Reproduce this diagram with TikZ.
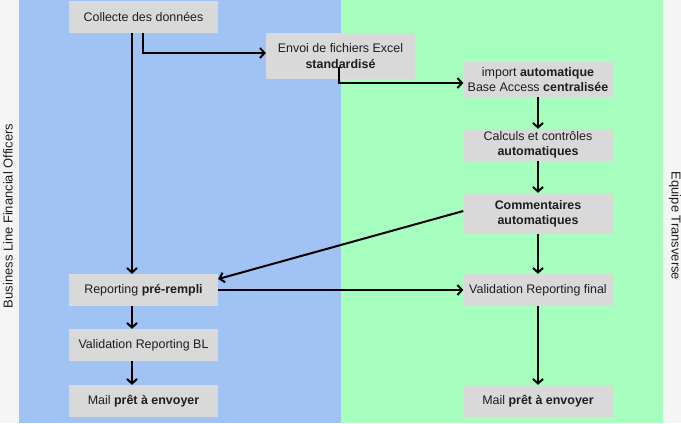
\documentclass[tikz,border=0pt]{standalone}
\usepackage{fontspec}
\setmainfont{Liberation Sans}
\usetikzlibrary{arrows.meta}
\definecolor{bgc}{HTML}{F5F5F5}
\definecolor{bluelane}{HTML}{A0C3F3}
\definecolor{greenlane}{HTML}{A6FFBF}
\definecolor{boxc}{HTML}{D9D9D9}
\definecolor{txt}{HTML}{1E1E1E}
\begin{document}
\begin{tikzpicture}[x=1bp,y=-1bp,
  font=\fontsize{12.5}{15.2}\selectfont,
  stepbox/.style={fill=boxc, inner sep=0pt, align=center, text=txt, minimum width=149bp},
  conn/.style={line width=2bp, -{Straight Barb[length=4.5bp,width=10bp,line width=2bp]}},
  lanelabel/.style={text=txt, font=\fontsize{13}{15}\selectfont}]
\useasboundingbox (0,0) rectangle (681,423);
\fill[bgc] (0,0) rectangle (681,423);
\fill[bluelane] (19,0) rectangle (341,423);
\fill[greenlane] (341,0) rectangle (663,423);

\node[stepbox, minimum height=32bp] (collecte) at (143.5,17) {Collecte des données};
\node[stepbox, minimum height=46bp] (envoi) at (340.5,56) {Envoi de fichiers Excel\\\textbf{standardisé}};
\node[stepbox, minimum height=35bp] (import) at (538,79.5) {import \textbf{automatique}\\Base Access \textbf{centralisée}};
\node[stepbox, minimum height=32bp] (calculs) at (538,145) {Calculs et contrôles\\\textbf{automatiques}};
\node[stepbox, minimum height=41bp] (comment) at (538,213.5) {\textbf{Commentaires}\\\textbf{automatiques}};
\node[stepbox, minimum height=32bp] (reporting) at (143.5,290) {Reporting \textbf{pré-rempli}};
\node[stepbox, minimum height=32bp] (valbl) at (143.5,345) {Validation Reporting BL};
\node[stepbox, minimum height=32bp] (maill) at (143.5,401) {Mail \textbf{prêt à envoyer}};
\node[stepbox, minimum height=32bp] (valfinal) at (538,290) {Validation Reporting final};
\node[stepbox, minimum height=32bp] (mailr) at (538,401) {Mail \textbf{prêt à envoyer}};

\node[lanelabel, rotate=90] (bl) at (8,216) {Business Line Financial Officers};
\node[lanelabel, rotate=-90] (eq) at (675,226) {Equipe Transverse};

\draw[conn] ([xshift=-11.5bp]collecte.south) -- ([xshift=-11.5bp]reporting.north);
\draw[conn] ([xshift=-0.5bp]collecte.south) |- ([yshift=3bp]envoi.west);
\draw[conn] ([xshift=-1.5bp,yshift=-11bp]envoi.center) |- ([yshift=-3.5bp]import.west);
\draw[conn] (import.south) -- (calculs.north);
\draw[conn] (calculs.south) -- (comment.north);
\draw[conn] ([yshift=2.5bp]comment.west) -- ([yshift=11bp]reporting.east);
\draw[conn] (comment.south) -- (valfinal.north);
\draw[conn] (reporting.east) -- (valfinal.west);
\draw[conn] ([xshift=-11.5bp]reporting.south) -- ([xshift=-11.5bp]valbl.north);
\draw[conn] ([xshift=-11.5bp]valbl.south) -- ([xshift=-11.5bp]maill.north);
\draw[conn] (valfinal.south) -- (mailr.north);
\end{tikzpicture}
\end{document}
